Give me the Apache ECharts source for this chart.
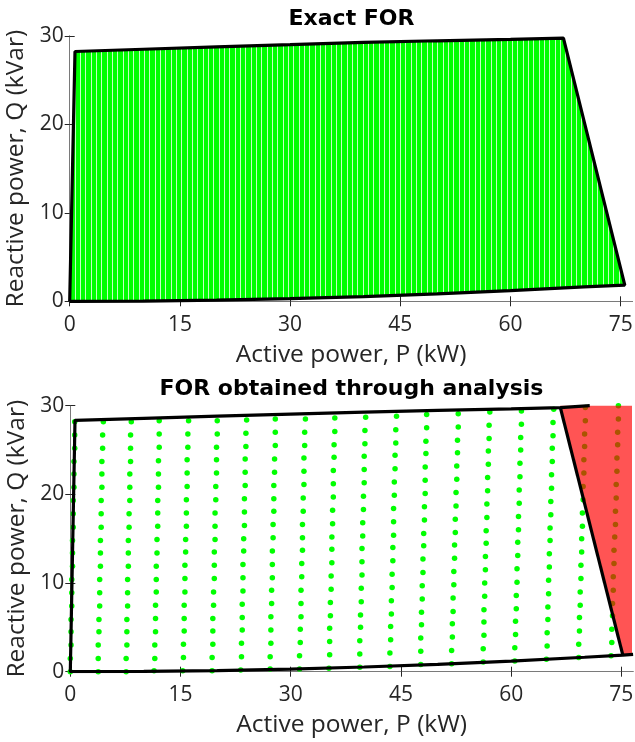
<!DOCTYPE html>
<html>
<head>
<meta charset="utf-8">
<script src="https://cdn.jsdelivr.net/npm/echarts@6/dist/echarts.min.js"></script>
<style>
  html, body { margin: 0; padding: 0; background: #ffffff; }
  #chart { width: 635px; height: 742px; }
</style>
</head>
<body>
<div id="chart"></div>
<script>
// Axis ranges and tick labels (P in kW, Q in kVar)
const pMax = 76.6;
const qMax = 30;
const pTicks = [0, 15, 30, 45, 60, 75];
const qTicks = [0, 10, 20, 30];

// Exact feasible operating region: upper edge, right edge, lower edge
const exactUpper = [[0, 0], [0.72, 28.25], [10, 28.5], [20, 28.78], [30, 29.02], [40, 29.27],
                    [50, 29.46], [60, 29.62], [67.2, 29.75]];
const exactLower = [[75.55, 1.84], [70, 1.63], [60, 1.2], [50, 0.83], [40, 0.53], [30, 0.3],
                    [20, 0.13], [10, 0.03], [0, 0]];

// Region from the analysis: boundary polyline, exact right edge, over-estimated area
const analysisLower = [[76.6, 1.96], [75.2, 1.88], [70, 1.63], [60, 1.2], [50, 0.83], [40, 0.53],
                       [30, 0.3], [20, 0.13], [10, 0.03], [0, 0]];
const analysisUpper = [[0.64, 28.35], [10, 28.58], [20, 28.82], [30, 29.05], [40, 29.28],
                       [50, 29.47], [60, 29.64], [66.7, 29.78], [70.7, 30.0]];
const exactRightEdge = [[66.7, 29.78], [75.2, 1.88]];
const overEstimate = [[66.63, 30], [76.45, 30], [76.45, 1.96], [75.2, 1.88]];

// Operating points checked by the analysis, one list per column
const gridP = [
  [0.0,0.0,0.1,0.1,0.1,0.2,0.2,0.2,0.3,0.3,0.3,0.4,0.4,0.4,0.5,0.5,0.5,0.6,0.6,0.6],
  [3.8,3.8,3.8,3.9,3.9,4.0,4.0,4.0,4.1,4.1,4.1,4.2,4.2,4.2,4.3,4.3,4.3,4.4,4.4,4.5],
  [7.6,7.6,7.7,7.7,7.7,7.8,7.8,7.8,7.9,7.9,7.9,8.0,8.0,8.1,8.1,8.1,8.2,8.2,8.2,8.3],
  [11.4,11.5,11.5,11.6,11.6,11.6,11.7,11.7,11.7,11.8,11.8,11.9,11.9,11.9,12.0,12.0,12.0,12.1,12.1,12.1],
  [15.3,15.4,15.4,15.5,15.5,15.5,15.6,15.6,15.6,15.7,15.7,15.8,15.8,15.8,15.9,15.9,15.9,16.0,16.0,16.1],
  [19.3,19.3,19.4,19.4,19.4,19.5,19.5,19.6,19.6,19.6,19.7,19.7,19.7,19.8,19.8,19.9,19.9,19.9,20.0,20.0],
  [23.2,23.3,23.3,23.4,23.4,23.4,23.5,23.5,23.5,23.6,23.6,23.7,23.7,23.7,23.8,23.8,23.8,23.9,23.9,24.0],
  [27.2,27.2,27.3,27.3,27.3,27.4,27.4,27.5,27.5,27.5,27.6,27.6,27.7,27.7,27.7,27.8,27.8,27.9,27.9,27.9],
  [31.2,31.2,31.3,31.3,31.4,31.4,31.4,31.5,31.5,31.6,31.6,31.6,31.7,31.7,31.8,31.8,31.8,31.9,31.9,32.0],
  [35.2,35.3,35.3,35.3,35.4,35.4,35.5,35.5,35.6,35.6,35.6,35.7,35.7,35.8,35.8,35.8,35.9,35.9,36.0,36.0],
  [39.4,39.4,39.4,39.5,39.5,39.6,39.6,39.7,39.7,39.7,39.8,39.8,39.9,39.9,40.0,40.0,40.0,40.1,40.1,40.2],
  [43.5,43.5,43.6,43.6,43.7,43.7,43.8,43.8,43.9,43.9,44.0,44.0,44.0,44.1,44.1,44.2,44.2,44.3,44.3,44.4],
  [47.7,47.7,47.7,47.8,47.8,47.9,47.9,48.0,48.0,48.1,48.1,48.2,48.2,48.3,48.3,48.3,48.4,48.4,48.5,48.5],
  [51.9,51.9,52.0,52.0,52.1,52.1,52.2,52.2,52.3,52.3,52.4,52.4,52.5,52.5,52.6,52.6,52.7,52.7,52.8,52.8],
  [56.2,56.2,56.3,56.3,56.3,56.4,56.4,56.5,56.5,56.6,56.6,56.7,56.7,56.8,56.8,56.9,56.9,57.0,57.0,57.1],
  [60.5,60.5,60.6,60.6,60.7,60.7,60.8,60.8,60.9,60.9,61.0,61.0,61.1,61.1,61.2,61.2,61.3,61.3,61.4,61.4],
  [64.8,64.9,64.9,65.0,65.0,65.1,65.1,65.2,65.2,65.3,65.3,65.4,65.4,65.5,65.5,65.6,65.6,65.7,65.7,65.8],
  [69.2,69.2,69.3,69.3,69.4,69.4,69.5,69.5,69.6,69.6,69.7,69.7,69.8,69.8,69.9,69.9,70.0,70.0,70.1,70.1],
  [73.6,73.7,73.7,73.8,73.8,73.9,73.9,74.0,74.0,74.1,74.2,74.2,74.3,74.3,74.4,74.4,74.5,74.5,74.6,74.6]
];
const gridQ = [
  [0.0,1.5,3.0,4.5,5.9,7.4,8.9,10.4,11.9,13.4,14.8,16.3,17.8,19.3,20.8,22.3,23.7,25.2,26.7,28.2],
  [0.0,1.5,3.0,4.5,5.9,7.4,8.9,10.4,11.9,13.4,14.8,16.3,17.8,19.3,20.8,22.3,23.7,25.2,26.7,28.2],
  [0.0,1.5,3.0,4.5,5.9,7.4,8.9,10.4,11.9,13.4,14.8,16.3,17.8,19.3,20.8,22.3,23.7,25.2,26.7,28.2],
  [0.1,1.5,3.0,4.5,6.0,7.5,9.0,10.4,11.9,13.4,14.9,16.4,17.9,19.3,20.8,22.3,23.8,25.3,26.8,28.3],
  [0.1,1.6,3.1,4.6,6.0,7.5,9.0,10.5,12.0,13.5,14.9,16.4,17.9,19.4,20.9,22.4,23.9,25.3,26.8,28.3],
  [0.1,1.6,3.1,4.6,6.0,7.5,9.0,10.5,12.0,13.5,14.9,16.4,17.9,19.4,20.9,22.4,23.9,25.3,26.8,28.3],
  [0.2,1.7,3.2,4.7,6.1,7.6,9.1,10.6,12.1,13.6,15.0,16.5,18.0,19.5,21.0,22.5,24.0,25.4,26.9,28.4],
  [0.3,1.7,3.2,4.7,6.2,7.7,9.2,10.6,12.1,13.6,15.1,16.6,18.1,19.5,21.0,22.5,24.0,25.5,27.0,28.5],
  [0.3,1.8,3.3,4.8,6.2,7.7,9.2,10.7,12.2,13.7,15.1,16.6,18.1,19.6,21.1,22.6,24.1,25.5,27.0,28.5],
  [0.4,1.9,3.4,4.9,6.3,7.8,9.3,10.8,12.3,13.8,15.2,16.7,18.2,19.7,21.2,22.7,24.2,25.6,27.1,28.6],
  [0.5,2.0,3.5,5.0,6.4,7.9,9.4,10.9,12.4,13.9,15.3,16.8,18.3,19.8,21.3,22.8,24.3,25.7,27.2,28.7],
  [0.6,2.1,3.6,5.1,6.5,8.0,9.5,11.0,12.5,14.0,15.4,16.9,18.4,19.9,21.4,22.9,24.4,25.8,27.3,28.8],
  [0.8,2.3,3.8,5.3,6.7,8.2,9.7,11.2,12.7,14.2,15.6,17.1,18.6,20.1,21.6,23.1,24.6,26.0,27.5,29.0],
  [0.9,2.4,3.9,5.4,6.8,8.3,9.8,11.3,12.8,14.3,15.7,17.2,18.7,20.2,21.7,23.2,24.7,26.1,27.6,29.1],
  [1.1,2.6,4.1,5.6,7.0,8.5,10.0,11.5,13.0,14.5,15.9,17.4,18.9,20.4,21.9,23.4,24.9,26.3,27.8,29.3],
  [1.2,2.7,4.2,5.7,7.1,8.6,10.1,11.6,13.1,14.6,16.0,17.5,19.0,20.5,22.0,23.5,25.0,26.4,27.9,29.4],
  [1.4,2.9,4.4,5.9,7.3,8.8,10.3,11.8,13.3,14.8,16.2,17.7,19.2,20.7,22.2,23.7,25.2,26.6,28.1,29.6],
  [1.6,3.1,4.6,6.1,7.5,9.0,10.5,12.0,13.5,15.0,16.4,17.9,19.4,20.9,22.4,23.9,25.4,26.8,28.3,29.8],
  [1.8,3.3,4.8,6.3,7.7,9.2,10.7,12.2,13.7,15.2,16.6,18.1,19.6,21.1,22.6,24.1,25.6,27.0,28.5,30.0]
];

const titles = ['Exact FOR', 'FOR obtained through analysis'];
const xName = 'Active power, P (kW)';
const yName = 'Reactive power, Q (kVar)';

// ---- derived tables ----
const exactOutline = exactUpper.concat(exactLower);
const analysisOutline = analysisLower.concat(analysisUpper);
const analysisPoints = [];
gridP.forEach((col, c) => col.forEach((p, k) => analysisPoints.push([p, gridQ[c][k]])));

// Dense sampling of the exact region renders as green columns with pale gaps
function columnTexture() {
  const cv = document.createElement('canvas');
  cv.width = 16; cv.height = 4;
  const g = cv.getContext('2d');
  g.fillStyle = '#00ff00';
  g.fillRect(0, 0, 16, 4);
  g.fillStyle = '#c4ffc4';
  [0, 5, 11].forEach(x => g.fillRect(x, 0, 1, 4));
  return cv;
}

const FONT = '"Open Sans", "Noto Sans", sans-serif';
const TITLE_FONT = 'bold 22px "DejaVu Sans", sans-serif';
const TEXT = '#262626';
const BOX = '#7a7a7a';
const grids = [
  { left: 69.7, top: 36, width: 562.8, height: 265.3, containLabel: false, outerBoundsMode: 'none' },
  { left: 70.3, top: 405.7, width: 562.8, height: 266, containLabel: false, outerBoundsMode: 'none' }
];

function xAxes(gi) {
  return [
    {
      type: 'value', gridIndex: gi, position: 'bottom', min: 0, max: pMax,
      name: xName, nameLocation: 'middle', nameGap: 41,
      nameTextStyle: { fontFamily: FONT, fontSize: 24.5, color: TEXT },
      axisLine: { show: true, lineStyle: { color: BOX, width: 1 } },
      axisTick: { show: true, inside: true, length: 5, customValues: pTicks, lineStyle: { color: TEXT } },
      axisLabel: { customValues: pTicks, margin: 13, fontFamily: FONT, fontSize: 21, color: TEXT },
      splitLine: { show: false }
    },
    {
      type: 'value', gridIndex: gi, position: 'top', min: 0, max: pMax,
      axisLine: { show: true, lineStyle: { color: BOX, width: 1 } },
      axisTick: { show: true, inside: true, length: 5, customValues: pTicks, lineStyle: { color: TEXT } },
      axisLabel: { show: false },
      splitLine: { show: false }
    }
  ];
}
function yAxes(gi) {
  return [
    {
      type: 'value', gridIndex: gi, position: 'left', min: 0, max: qMax, interval: 10,
      name: yName, nameLocation: 'middle', nameGap: 36, nameRotate: 90,
      nameTextStyle: { fontFamily: FONT, fontSize: 24.5, color: TEXT },
      axisLine: { show: true, lineStyle: { color: BOX, width: 1 } },
      axisTick: { show: true, inside: true, length: 5, customValues: qTicks, lineStyle: { color: TEXT } },
      axisLabel: { customValues: qTicks, margin: 6, fontFamily: FONT, fontSize: 21, color: TEXT },
      splitLine: { show: false }
    },
    {
      type: 'value', gridIndex: gi, position: 'right', min: 0, max: qMax, interval: 10,
      axisLine: { show: true, lineStyle: { color: BOX, width: 1 } },
      axisTick: { show: true, inside: true, length: 5, customValues: qTicks, lineStyle: { color: TEXT } },
      axisLabel: { show: false },
      splitLine: { show: false }
    }
  ];
}

function polygonSeries(xi, yi, points, fill, z) {
  return {
    type: 'custom', xAxisIndex: xi, yAxisIndex: yi, z: z, silent: true,
    data: [[points[0][0], points[0][1]]],
    renderItem: (params, api) => ({
      type: 'polygon',
      shape: { points: points.map(pt => api.coord(pt)) },
      style: { fill: fill, stroke: null }
    })
  };
}
function outlineSeries(xi, yi, points, z) {
  return {
    type: 'line', xAxisIndex: xi, yAxisIndex: yi, z: z, silent: true,
    data: points, showSymbol: false, symbol: 'none',
    lineStyle: { color: '#000000', width: 3.2 }, animation: false
  };
}

const option = {
  animation: false,
  backgroundColor: '#ffffff',
  grid: grids,
  xAxis: xAxes(0).concat(xAxes(1)),
  yAxis: yAxes(0).concat(yAxes(1)),
  graphic: [
    { type: 'text', x: 351.5, y: 19, style: { text: titles[0], font: TITLE_FONT, fill: '#000', align: 'center', verticalAlign: 'middle' } },
    { type: 'text', x: 351.5, y: 389, style: { text: titles[1], font: TITLE_FONT, fill: '#000', align: 'center', verticalAlign: 'middle' } }
  ],
  series: [
    polygonSeries(0, 0, exactOutline, { image: columnTexture(), repeat: 'repeat' }, 2),
    outlineSeries(0, 0, exactOutline.concat([exactOutline[0]]), 5),
    {
      type: 'scatter', xAxisIndex: 2, yAxisIndex: 2, z: 2, silent: true,
      data: analysisPoints, symbol: 'circle', symbolSize: 5.5,
      itemStyle: { color: '#00ff00', opacity: 1 }
    },
    polygonSeries(2, 2, overEstimate, 'rgba(255,0,0,0.67)', 3),
    outlineSeries(2, 2, analysisOutline, 5),
    outlineSeries(2, 2, exactRightEdge, 5)
  ]
};

const chart = echarts.init(document.getElementById('chart'), null, { renderer: 'canvas' });
chart.setOption(option);
</script>
</body>
</html>
